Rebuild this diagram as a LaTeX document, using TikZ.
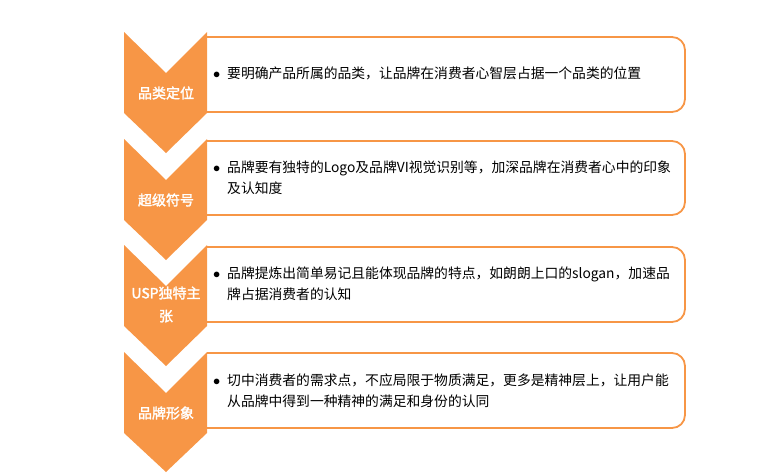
\documentclass[tikz,border=0pt]{standalone}
\usepackage{fontspec}
\setmainfont{Noto Sans CJK SC}
\newfontfamily\labelfont{Noto Sans CJK SC}[FakeBold=2]
\usepackage{xcolor}
\usetikzlibrary{positioning}
\definecolor{brandorange}{HTML}{F79646}

\begin{document}
\begin{tikzpicture}[x=1pt,y=-1pt,
                    chevron/.style={fill=brandorange,draw=none},
                    frame/.style={draw=brandorange,line width=1.8pt,rounded corners=13pt},
                    label node/.style={text=white,font=\labelfont\fontsize{14}{23}\selectfont,align=center,inner sep=0pt},
                    desc node/.style={anchor=west,inner sep=0pt,font=\fontsize{13.8}{21}\selectfont}]

 \useasboundingbox (0,0) rectangle (783,472);

 % frames on the right
 \draw[frame] (207,37) -- (685,37) -- (685,112) -- (207,112);
 \draw[frame] (207,141) -- (685,141) -- (685,215) -- (207,215);
 \draw[frame] (207,247) -- (685,247) -- (685,322) -- (207,322);
 \draw[frame] (207,353) -- (685,353) -- (685,428) -- (207,428);

 % chevrons on the left
 \fill[chevron] (124,32) -- (166,73) -- (207,32) -- (207,113) -- (166,153) -- (124,113) -- cycle;
 \fill[chevron] (124,139) -- (166,180) -- (207,139) -- (207,220) -- (166,260) -- (124,220) -- cycle;
 \fill[chevron] (124,245) -- (166,286) -- (207,245) -- (207,326) -- (166,366) -- (124,326) -- cycle;
 \fill[chevron] (124,352) -- (166,393) -- (207,352) -- (207,433) -- (166,472) -- (124,433) -- cycle;

 \node[label node] (step1) at (166,93) {品类定位};

 \node[label node] (step2) at (166,200) {超级符号};

 \node[label node] (step3) at (166,304.5) {USP独特主\\张};

 \node[label node] (step4) at (166,413) {品牌形象};

 % texts
 \node[desc node] (text1) at (213,74.5) {\begin{tabular}{@{}l@{}l@{}}\makebox[14pt][l]{$\bullet$}&要明确产品所属的品类，让品牌在消费者心智层占据一个品类的位置\end{tabular}};

 \node[desc node] (text2) at (213,178.5) {\begin{tabular}{@{}l@{}l@{}}\makebox[14pt][l]{$\bullet$}&品牌要有独特的Logo及品牌VI视觉识别等，加深品牌在消费者心中的印象\\&及认知度\end{tabular}};

 \node[desc node] (text3) at (213,285) {\begin{tabular}{@{}l@{}l@{}}\makebox[14pt][l]{$\bullet$}&品牌提炼出简单易记且能体现品牌的特点，如朗朗上口的slogan，加速品\\&牌占据消费者的认知\end{tabular}};

 \node[desc node] (text4) at (213,391.5) {\begin{tabular}{@{}l@{}l@{}}\makebox[14pt][l]{$\bullet$}&切中消费者的需求点，不应局限于物质满足，更多是精神层上，让用户能\\&从品牌中得到一种精神的满足和身份的认同\end{tabular}};

\end{tikzpicture}
\end{document}
